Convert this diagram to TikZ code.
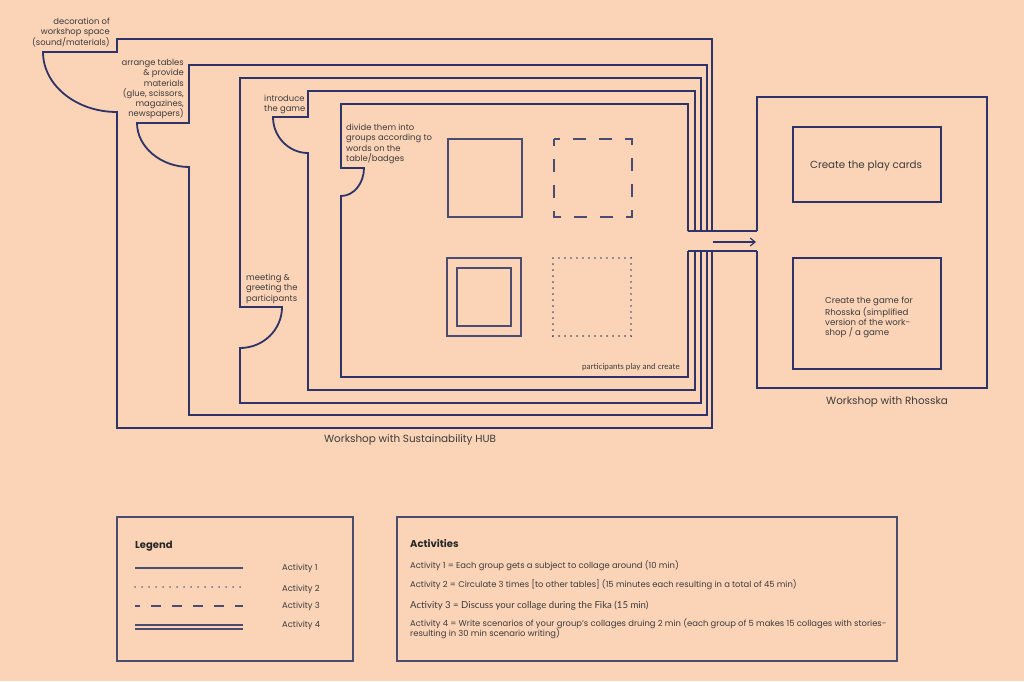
\documentclass[tikz,border=0pt]{standalone}
\usepackage{fontspec}
\setmainfont{Poppins}
\newfontfamily\latofont{Lato}
\usetikzlibrary{arrows.meta}
\definecolor{bg}{HTML}{FBD3B7}
\definecolor{navy}{HTML}{2E3468}
\definecolor{sqc}{HTML}{4A4C72}
\definecolor{txt}{HTML}{3C3C3C}
\tikzset{
  outl/.style={draw=navy, line width=1.8pt, line join=miter},
  sq/.style={draw=sqc, line width=1.6pt},
  lbl/.style={font=\fontsize{8.4}{10.3}\selectfont, text=txt, inner sep=0pt},
  small/.style={font=\fontsize{8.6}{10}\selectfont, text=txt, inner sep=0pt},
  title/.style={font=\fontsize{10.4}{12}\selectfont, text=txt, inner sep=0pt},
  head/.style={font=\fontsize{10}{12}\selectfont\bfseries, text=black!85, inner sep=0pt},
  actline/.style={font=\fontsize{8.4}{10}\selectfont, text=txt, inner sep=0pt, anchor=base west},
  leglbl/.style={font=\fontsize{8.4}{10}\selectfont, text=txt, inner sep=0pt, anchor=base west},
  legline/.style={draw=sqc, line width=1.4pt},
  dotline/.style={draw=sqc, line width=1.6pt, line cap=round, dash pattern=on 0.1pt off 5.9pt},
}
\begin{document}
\begin{tikzpicture}[x=1pt, y=-1pt]
\useasboundingbox (0,0) rectangle (1024,681);
\fill[bg] (0,0) rectangle (1024,681);

% nested outlines
\draw[outl] (712,231) -- (712,39) -- (117,39) -- (117,52) -- (43,52)
  .. controls (43,85) and (76,112) .. (117,112) -- (117,428) -- (712,428) -- (712,251);
\draw[outl] (707,231) -- (707,65) -- (189,65) -- (189,123) -- (137,123)
  .. controls (137,147) and (161,167) .. (189,167) -- (189,415) -- (707,415) -- (707,251);
\draw[outl] (701,231) -- (701,78) -- (240,78) -- (240,307) -- (282,307)
  .. controls (282,330) and (263,348) .. (240,348) -- (240,403) -- (701,403) -- (701,251);
\draw[outl] (695,231) -- (695,91) -- (308,91) -- (308,117) -- (273,117)
  .. controls (273,137) and (289,153) .. (308,153) -- (308,390) -- (695,390) -- (695,251);
\draw[outl] (688,231) -- (688,104) -- (341,104) -- (341,168) -- (364,168)
  .. controls (364,183) and (354,196) .. (341,196) -- (341,377) -- (688,377) -- (688,251);

% channel
\draw[outl] (688,231) -- (757,231);
\draw[outl] (688,251) -- (757,251);

% right box
\draw[outl] (757,231) -- (757,97) -- (987,97) -- (987,388) -- (757,388) -- (757,251);
\draw[outl] (793,127) rectangle (941,202);
\draw[outl] (793,258) rectangle (941,369);

% arrow
\coordinate (arrS) at (713,242);
\coordinate (arrE) at (756,242);
\draw[draw=navy, line width=1.1pt, -{Straight Barb[length=5pt,width=8pt,line width=1.1pt]}] (arrS) -- (arrE);

% squares
\draw[sq] (448,139) rectangle (522,217);
\draw[sq, dash pattern=on 13pt off 13pt, dash phase=7pt] (554,139) -- (632,139) -- (632,217) -- (554,217) -- cycle;
\draw[sq, line width=1.9pt] (447,258) rectangle (521,336);
\draw[sq] (457,268) rectangle (511,326);
\draw[dotline] (553,258) rectangle (631,336);

% labels
\node[lbl, anchor=north east, align=right] (deco) at (110,18) {decoration of\\workshop space\\(sound/materials)};
\node[lbl, anchor=north east, align=right] (arr) at (184,59) {arrange tables\\\& provide\\materials\\(glue, scissors,\\magazines,\\newspapers)};
\node[lbl, anchor=north west, align=left] (intro) at (264,95) {introduce\\the game};
\node[lbl, anchor=north west, align=left] (meet) at (246,274) {meeting \&\\greeting the\\participants};
\node[lbl, anchor=north west, align=left] (divide) at (346,124) {divide them into\\groups according to\\words on the\\table/badges};
\node[inner sep=0pt, text=txt, font=\fontsize{8.1}{9}\latofont, anchor=base east] (play) at (680,369.5) {participants play and create};
\node[title] (hub) at (410,440) {Workshop with Sustainability HUB};
\node[title] (rho) at (887,402) {Workshop with Rhosska};
\node[title, font=\fontsize{10.3}{12}\selectfont] (cards) at (866,166) {Create the play cards};
\node[small, anchor=north west, align=left] (game) at (825,297) {Create the game for\\Rhosska (simplified\\version of the work-\\shop / a game};

% legend
\draw[draw=sqc, line width=1.6pt] (117,517) rectangle (353,661);
\node[head, anchor=base west] (leg) at (135,548.5) {Legend};
\draw[legline] (135,568) -- (243,568);
\draw[draw=sqc, line width=1.3pt, line cap=round, dash pattern=on 0.1pt off 6.9pt] (135,587) -- (243,587);
\draw[legline, dash pattern=on 10pt off 11pt, dash phase=5pt] (135,606) -- (243,606);
\draw[legline, line width=1.2pt] (135,625) -- (243,625);
\draw[legline, line width=1.2pt] (135,629) -- (243,629);
\node[leglbl] (l1) at (282,570) {Activity 1};
\node[leglbl] (l2) at (282,591) {Activity 2};
\node[leglbl] (l3) at (282,608) {Activity 3};
\node[leglbl] (l4) at (282,627) {Activity 4};

% activities
\draw[draw=sqc, line width=1.6pt] (397,517) rectangle (897,661);
\node[head, anchor=base west] (acth) at (410,547.5) {Activities};
\node[actline] (a1) at (410,568) {Activity 1 = Each group gets a subject to collage around (10 min)};
\node[actline] (a2) at (410,587) {Activity 2 = Circulate 3 times [to other tables] (15 minutes each resulting in a total of 45 min)};
\node[actline, font=\fontsize{9.6}{10}\latofont] (a3) at (410,608) {Activity 3 = Discuss your collage during the Fika (15 min)};
\node[actline] (a4) at (410,626) {Activity 4 = Write scenarios of your group's collages druing 2 min (each group of 5 makes 15 collages with stories-};
\node[actline] (a5) at (410,636) {resulting in 30 min scenario writing)};
\end{tikzpicture}
\end{document}
